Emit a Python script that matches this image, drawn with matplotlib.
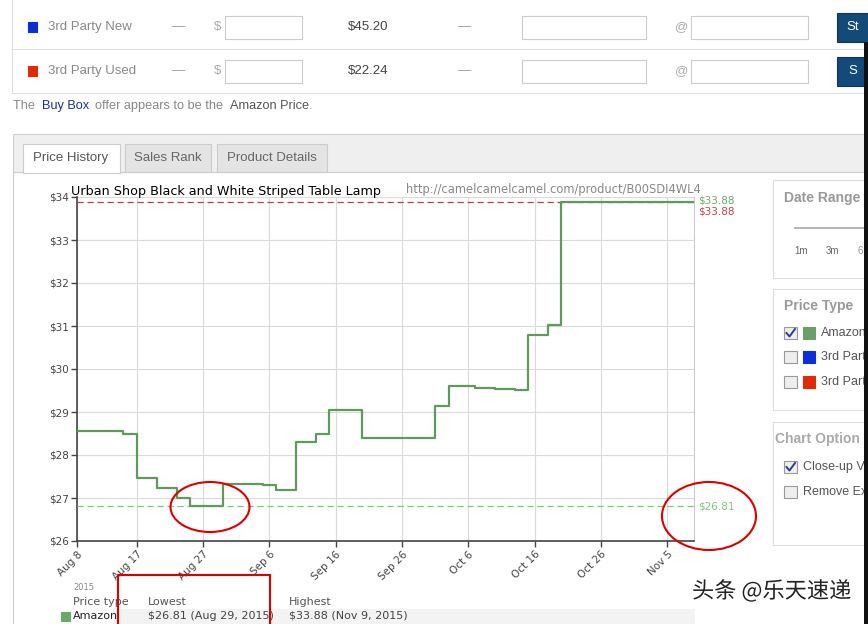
import datetime as dt
import matplotlib.pyplot as plt
import matplotlib.transforms as mtransforms
import matplotlib.patheffects as pe
from matplotlib.patches import Rectangle, Ellipse

# price history (Amazon), step changes
change_dates = ["2015-08-08", "2015-08-15", "2015-08-17", "2015-08-20", "2015-08-23",
                "2015-08-25", "2015-08-30", "2015-09-05", "2015-09-07", "2015-09-10",
                "2015-09-13", "2015-09-15", "2015-09-20", "2015-10-01", "2015-10-03",
                "2015-10-07", "2015-10-10", "2015-10-13", "2015-10-15", "2015-10-18",
                "2015-10-20", "2015-11-09"]
prices = [28.55, 28.50, 27.47, 27.24, 27.01, 26.81, 27.33, 27.31, 27.19, 28.31,
          28.50, 29.05, 28.40, 29.15, 29.61, 29.56, 29.54, 29.52, 30.80, 31.03,
          33.88, 33.88]
tick_dates = ["2015-08-08", "2015-08-17", "2015-08-27", "2015-09-06", "2015-09-16",
              "2015-09-26", "2015-10-06", "2015-10-16", "2015-10-26", "2015-11-05"]
tick_labels = ["Aug 8", "Aug 17", "Aug 27", "Sep 6", "Sep 16", "Sep 26",
               "Oct 6", "Oct 16", "Oct 26", "Nov 5"]
y_ticks = [26, 27, 28, 29, 30, 31, 32, 33, 34]
lowest = 26.81
highest = 33.88

W, H = 868, 624
fig = plt.figure(figsize=(W / 100, H / 100), dpi=100)
fig.patch.set_facecolor("white")

# page background in pixel coords
bg = fig.add_axes([0, 0, 1, 1])
bg.set_xlim(0, W)
bg.set_ylim(H, 0)
bg.axis("off")

WEB = "Liberation Sans"


def box(x0, y0, x1, y1, fc="white", ec="#d6d6d6", lw=0.8, z=1):
    bg.add_patch(Rectangle((x0, y0), x1 - x0, y1 - y0, facecolor=fc, edgecolor=ec, lw=lw, zorder=z))


def txt(x, y, s, size=9.5, color="#888888", weight="normal", family=WEB, ha="left", z=5):
    return bg.text(x, y, s, fontsize=size, color=color, fontweight=weight, family=family,
                   ha=ha, va="center", zorder=z)


# seller table
box(12, -2, 880, 93, ec="#dddddd")
bg.plot([12, 880], [49, 49], color="#e2e2e2", lw=0.8, zorder=2)
rows = [(27, "#0a2fd8", "3rd Party New", "$45.20", "St"),
        (71, "#e02a0a", "3rd Party Used", "$22.24", "S")]
for yc, col, name, price, btn in rows:
    box(28, yc - 5, 37, yc + 5, fc=col, ec=col, z=3)
    txt(48, yc, name)
    txt(172, yc, "—", color="#999999")
    txt(214, yc, "$", color="#aaaaaa")
    box(225, yc - 11, 302, yc + 12, ec="#cccccc", z=3)
    txt(348, yc, price, color="#444444")
    txt(458, yc, "—", color="#999999")
    box(522, yc - 11, 646, yc + 12, ec="#cccccc", z=3)
    txt(675, yc, "@", color="#aaaaaa")
    box(691, yc - 11, 808, yc + 12, ec="#cccccc", z=3)
    box(837, yc - 14, 880, yc + 15, fc="#124a7a", ec="#0d3558", z=3)
    txt(853, yc, btn, color="white", ha="center", z=6)

# buy box sentence, pieces placed one after another
renderer = fig.canvas.get_renderer()
inv = bg.transData.inverted()
xpos = 13
for piece, col in [("The ", "#888888"), ("Buy Box ", "#1a3390"),
                   ("offer appears to be the ", "#888888"), ("Amazon Price", "#555555"),
                   (".", "#888888")]:
    t = txt(xpos, 106, piece, size=9.2, color=col)
    ext = t.get_window_extent(renderer)
    xpos = inv.transform((ext.x1, ext.y0))[0] + (3 if piece.endswith(" ") else 0.5)

# chart panel + tabs
box(13, 134, 880, 640, ec="#cfcfcf")
box(14, 135, 880, 172, fc="#efefef", ec="none", z=2)
bg.plot([14, 880], [172, 172], color="#cccccc", lw=0.8, zorder=3)
box(23, 144, 120, 173, fc="white", ec="#cccccc", z=4)
box(125, 144, 211, 172, fc="#e4e4e4", ec="#cccccc", z=4)
box(217, 144, 327, 172, fc="#e4e4e4", ec="#cccccc", z=4)
txt(71, 158, "Price History", size=9.5, color="#555555", ha="center")
txt(168, 158, "Sales Rank", size=9.5, color="#666666", ha="center")
txt(272, 158, "Product Details", size=9.5, color="#666666", ha="center")

# side panels
box(773, 180, 880, 278, ec="#dddddd")
txt(784, 198, "Date Range", size=10, color="#999999", weight="bold")
bg.plot([795, 868], [228, 228], color="#aaaaaa", lw=1.2, zorder=3)
txt(794, 251, "1m", size=7, color="#666666")
txt(826, 251, "3m", size=7, color="#666666")
txt(858, 251, "6", size=7, color="#999999")

box(773, 289, 880, 410, ec="#dddddd")
txt(784, 306, "Price Type", size=10, color="#999999", weight="bold")
legend_rows = [(333, True, "#6a9e6a", "Amazon"), (357, False, "#0a2fd8", "3rd Part"),
               (382, False, "#e02a0a", "3rd Part")]
for yc, checked, col, lab in legend_rows:
    box(784, yc - 6, 797, yc + 6, fc="#eeeeee", ec="#999999", z=3)
    if checked:
        bg.plot([786.5, 789.5, 795], [yc, yc + 3.5, yc - 4], color="#2a3f8f", lw=1.4, zorder=4)
    box(803, yc - 6, 815, yc + 6, fc=col, ec=col, z=3)
    txt(821, yc, lab, size=9, color="#555555")

box(773, 422, 880, 545, ec="#dddddd")
txt(775, 439, "Chart Option", size=10, color="#aaaaaa", weight="bold")
for yc, checked, lab in [(467, True, "Close-up V"), (492, False, "Remove Ex")]:
    box(784, yc - 6, 797, yc + 6, fc="#eeeeee", ec="#999999", z=3)
    if checked:
        bg.plot([786.5, 789.5, 795], [yc, yc + 3.5, yc - 4], color="#2a3f8f", lw=1.4, zorder=4)
    txt(803, yc, lab, size=9, color="#555555")

# summary under the chart
box(113, 609, 695, 630, fc="#f3f3f3", ec="none", z=2)
txt(73, 588, "2015", size=6, color="#888888", family="DejaVu Sans")
txt(73, 602, "Price type", size=8, color="#555555", family="DejaVu Sans")
txt(148, 602, "Lowest", size=8, color="#555555", family="DejaVu Sans")
txt(289, 602, "Highest", size=8, color="#555555", family="DejaVu Sans")
box(61, 612, 70, 621, fc="#6aa86a", ec="#6aa86a", z=3)
txt(73, 616, "Amazon", size=8, color="#222222", family="DejaVu Sans")
txt(148, 616, "$26.81 (Aug 29, 2015)", size=8, color="#444444", family="DejaVu Sans")
txt(289, 616, "$33.88 (Nov 9, 2015)", size=8, color="#444444", family="DejaVu Sans")

# chart
x = [dt.datetime.fromisoformat(d) for d in change_dates]
ticks = [dt.datetime.fromisoformat(d) for d in tick_dates]

ax = fig.add_axes([77 / W, 1 - 541 / H, 617 / W, 344 / H])
ax.set_facecolor("white")
ax.step(x, prices, where="post", color="#5f9a5c", lw=1.6, zorder=4)
ax.axhline(highest, color="#b0404e", ls=(0, (5, 3)), lw=0.9, zorder=3)
ax.axhline(lowest, color="#80c480", ls=(0, (5, 3)), lw=0.9, zorder=3)
ax.set_xlim(dt.datetime(2015, 8, 8), dt.datetime(2015, 11, 9))
ax.set_ylim(26, 34)
ax.set_yticks(y_ticks)
ax.set_yticklabels(["$%d" % v for v in y_ticks])
ax.set_xticks(ticks)
ax.set_xticklabels(tick_labels, rotation=45, ha="right", va="top", rotation_mode="anchor")
ax.grid(color="#dadada", lw=0.8, zorder=0)
ax.tick_params(axis="both", labelsize=7.5, labelcolor="#444444", color="#444444",
               length=4, width=1, pad=2)
ax.spines["top"].set_visible(False)
ax.spines["right"].set_color("#cccccc")
ax.spines["right"].set_linewidth(0.8)
for s in ("left", "bottom"):
    ax.spines[s].set_color("#444444")
    ax.spines[s].set_linewidth(1.2)

trans = mtransforms.blended_transform_factory(ax.transAxes, ax.transData)
ax.annotate("$33.88", xy=(1, highest), xycoords=trans, xytext=(3, 1), textcoords="offset points",
            color="#6aaa6a", fontsize=7.5, va="center", annotation_clip=False)
ax.annotate("$33.88", xy=(1, highest), xycoords=trans, xytext=(3, -7), textcoords="offset points",
            color="#c0444e", fontsize=7.5, va="center", annotation_clip=False)
ax.annotate("$26.81", xy=(1, lowest), xycoords=trans, xytext=(3, 0), textcoords="offset points",
            color="#80c480", fontsize=7.5, va="center", annotation_clip=False)

ax.text(-0.01, 1.006, "Urban Shop Black and White Striped Table Lamp", transform=ax.transAxes,
        fontsize=9.2, color="black", va="baseline", ha="left")
ax.text(0.534, 1.012, "http://camelcamelcamel.com/product/B00SDI4WL4", transform=ax.transAxes,
        fontsize=8.3, color="#888888", va="baseline", ha="left")

# overlay: red marks, scrollbar, watermark
ov = fig.add_axes([0, 0, 1, 1], facecolor="none")
ov.set_xlim(0, W)
ov.set_ylim(H, 0)
ov.axis("off")
ov.set_zorder(10)
ov.add_patch(Ellipse((210, 507), 79, 50, fill=False, ec="#dd0000", lw=1.5))
ov.add_patch(Ellipse((709, 516), 94, 68, fill=False, ec="#dd0000", lw=1.5))
ov.add_patch(Rectangle((118, 575), 152, 52, fill=False, ec="#dd0000", lw=1.5))
ov.add_patch(Rectangle((864, 42), 6, 590, fc="#111111", ec="none"))
ov.text(692, 591, "头条 @乐天速递", fontsize=16, color="#222222",
        family=["Noto Sans CJK SC", "DejaVu Sans"], va="center", ha="left",
        path_effects=[pe.withStroke(linewidth=2.5, foreground="white")])

fig.savefig("out.png", dpi=100)
